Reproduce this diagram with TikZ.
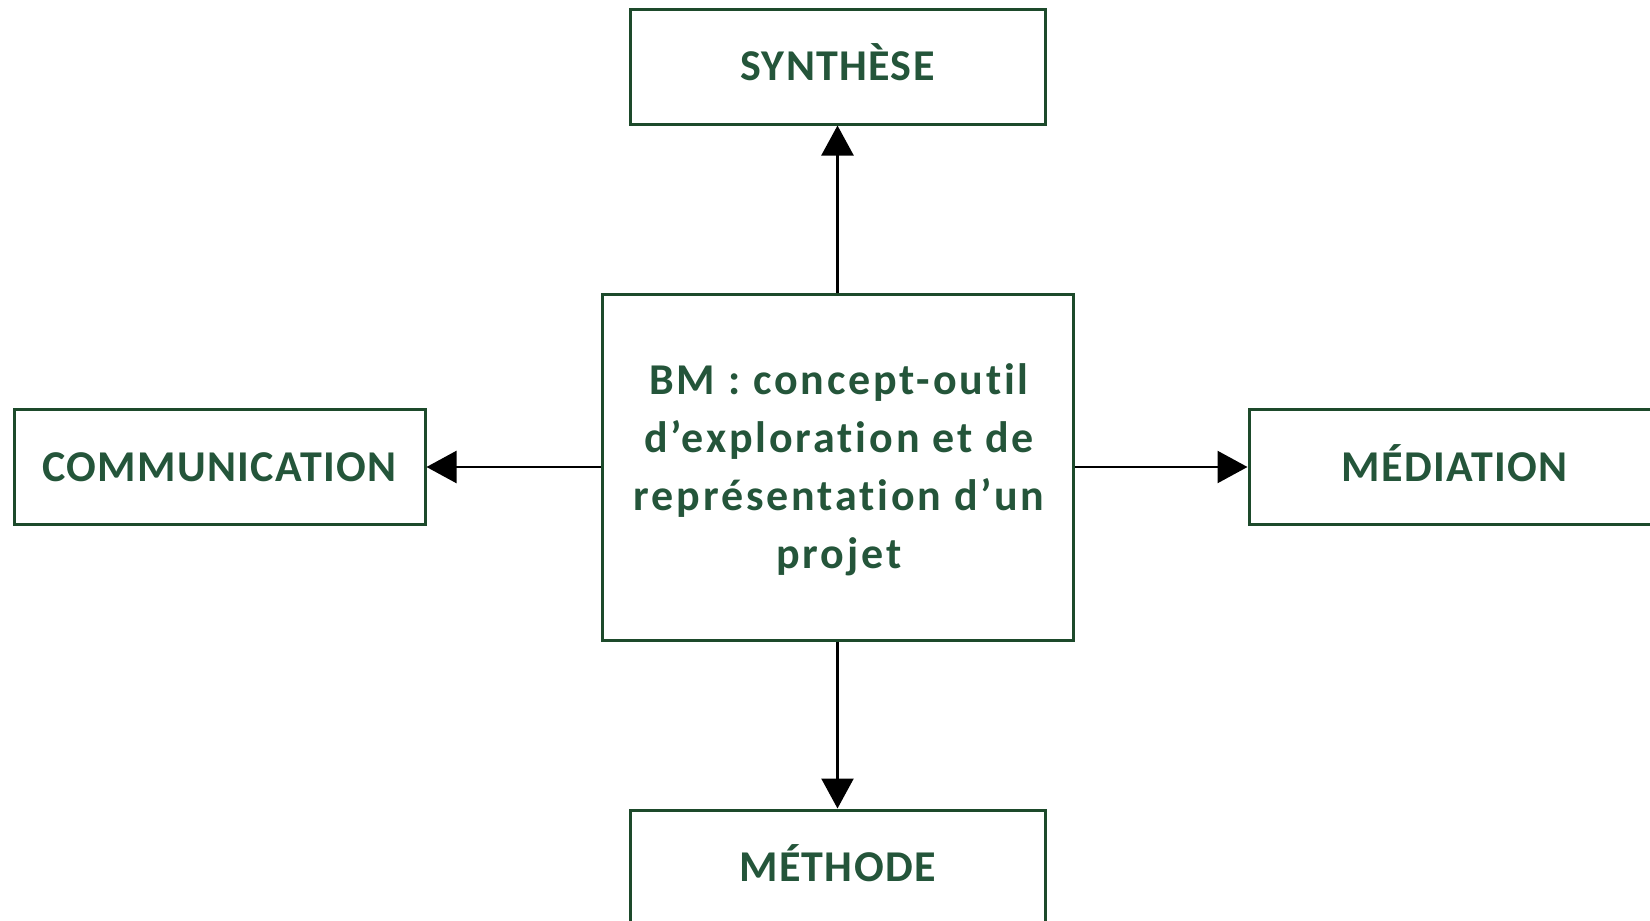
\documentclass[tikz,border=0pt]{standalone}
\usepackage{fontspec}
\setmainfont{Carlito}[RawFeature=-liga]
\usetikzlibrary{arrows.meta}
\definecolor{boxgreen}{HTML}{1D4A2B}
\definecolor{textgreen}{HTML}{24553A}
\tikzset{
  box/.style={draw=boxgreen, line width=1.5pt, fill=white, inner sep=0pt,
    text=textgreen, align=center},
  label box/.style={box, minimum width=206pt, minimum height=57.5pt,
    font=\bfseries\fontsize{22}{29}\selectfont\addfontfeature{LetterSpace=3},
    text height=14.2pt, text depth=0pt},
  link/.style={draw=black, line width=1.2pt, -{Triangle[length=15pt,width=16pt]}}
}
\begin{document}
\begin{tikzpicture}[x=0.5pt,y=-0.5pt]
  \useasboundingbox (0,0) rectangle (1650,921);
  \clip (0,0) rectangle (1650,921);

  % central concept
  \node[box, minimum width=235.5pt, minimum height=173pt] (bm) at (837.5,467) {};
  \node[font=\bfseries\fontsize{22}{29}\selectfont\addfontfeature{LetterSpace=6.5},
    text=textgreen, align=center, inner sep=0pt] (bmtext) at (839,470)
    {BM : concept-outil\\d’exploration et de\\représentation d’un\\projet};

  % the four facets
  \node[label box, minimum width=207.5pt] (syn) at (837.5,66.5) {SYNTHÈSE};
  \node[label box, minimum width=207.5pt] (met) at (837.5,867.5) {MÉTHODE};
  \node[label box, minimum width=205.5pt] (com) at (219.5,467) {COMMUNICATION};
  \node[label box, minimum width=205.5pt] (med) at (1454.5,467) {MÉDIATION};

  % links from the centre outward
  \draw[link] (bm.north) -- (syn.south);
  \draw[link] (bm.south) -- (met.north);
  \draw[link] (bm.west) -- (com.east);
  \draw[link] (bm.east) -- (med.west);
\end{tikzpicture}
\end{document}
